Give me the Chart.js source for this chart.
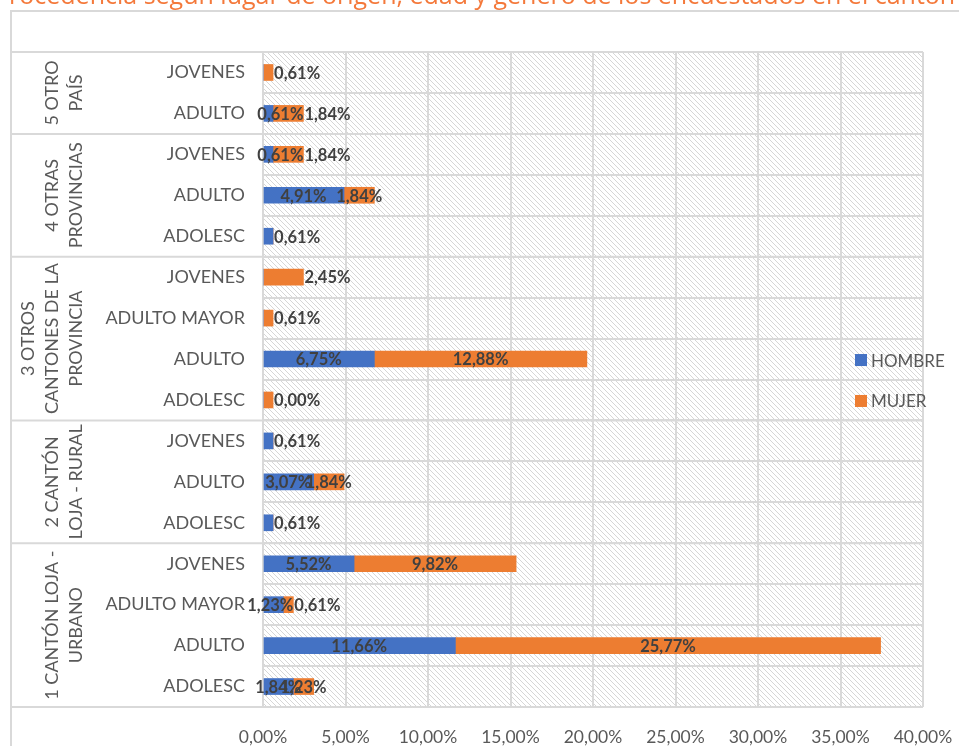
<!DOCTYPE html>
<html>
<head>
<meta charset="utf-8">
<script src="https://cdn.jsdelivr.net/npm/chart.js@4.4.1/dist/chart.umd.min.js"></script>
<style>
  html, body { margin: 0; padding: 0; background: #ffffff; }
  #wrap { position: relative; width: 959px; height: 746px; overflow: hidden; background: #fff; }
  #titulo { position: absolute; left: -6px; top: -23px; white-space: nowrap; font-family: "Open Sans", sans-serif; font-size: 25px; color: #F4793B; }
  canvas { position: absolute; left: 0; top: 0; }
</style>
</head>
<body>
<div id="wrap">
  <canvas id="c" width="959" height="746"></canvas>
  <div id="titulo">Procedencia según lugar de origen, edad y género de los encuestados en el cantón Loja</div>
</div>
<script>
// ---- Data ----
const categorias = [
  "JOVENES", "ADULTO",
  "JOVENES", "ADULTO", "ADOLESC",
  "JOVENES", "ADULTO MAYOR", "ADULTO", "ADOLESC",
  "JOVENES", "ADULTO", "ADOLESC",
  "JOVENES", "ADULTO MAYOR", "ADULTO", "ADOLESC"
];
const grupos = [
  ["5 OTRO", "PAÍS"],
  ["4 OTRAS", "PROVINCIAS"],
  ["3 OTROS", "CANTONES DE LA", "PROVINCIA"],
  ["2 CANTÓN", "LOJA - RURAL"],
  ["1 CANTÓN LOJA -", "URBANO"]
];
const tamanoGrupos = [2, 3, 4, 3, 4];
const hombre = [0, 0.61, 0.61, 4.91, 0.61, 0, 0, 6.75, 0, 0.61, 3.07, 0.61, 5.52, 1.23, 11.66, 1.84];
const mujer  = [0.61, 1.84, 1.84, 1.84, 0, 2.45, 0.61, 12.88, 0.61, 0, 1.84, 0, 9.82, 0.61, 25.77, 1.23];
const mujerEtiquetaTexto = [null, null, null, null, null, null, null, null, "0,00%", null, null, null, null, null, null, null];
const ticksX = [0, 5, 10, 15, 20, 25, 30, 35, 40];
const series = ["HOMBRE", "MUJER"];

const AZUL = "#4472C4", NARANJA = "#ED7D31";
const FONT = "Lato, 'Open Sans', sans-serif";

function fmt(v) { return v.toFixed(2).replace('.', ',') + '%'; }

// hatch pattern
function hatch() {
  const s = 5;
  const c = document.createElement('canvas');
  c.width = s; c.height = s;
  const g = c.getContext('2d');
  g.fillStyle = '#ffffff'; g.fillRect(0, 0, s, s);
  g.strokeStyle = '#d6d6d6'; g.lineWidth = 1;
  g.beginPath();
  for (let k = -1; k <= 1; k++) {
    g.moveTo(k * s, 0); g.lineTo(k * s + s, s);
  }
  g.stroke();
  return g.createPattern(c, 'repeat');
}

const fondo = {
  id: 'fondo',
  beforeDraw(chart) {
    const ctx = chart.ctx, a = chart.chartArea;
    ctx.save();
    ctx.fillStyle = '#ffffff';
    ctx.fillRect(0, 0, chart.width, chart.height);
    ctx.fillStyle = hatch();
    ctx.fillRect(a.left, a.top, a.right - a.left, a.bottom - a.top);
    ctx.restore();
  }
};

const etiquetas = {
  id: 'etiquetas',
  afterDatasetsDraw(chart) {
    const ctx = chart.ctx, xs = chart.scales.x, ys = chart.scales.y;
    ctx.save();
    ctx.font = "bold 16.5px " + FONT;
    ctx.fillStyle = '#404040';
    ctx.textBaseline = 'middle';
    for (let i = 0; i < categorias.length; i++) {
      const yc = ys.getPixelForValue(i) + 1;
      const segs = [];
      if (hombre[i] > 0) segs.push({ a: 0, b: hombre[i], t: fmt(hombre[i]) });
      if (mujer[i] > 0) segs.push({ a: hombre[i], b: hombre[i] + mujer[i], t: mujerEtiquetaTexto[i] || fmt(mujer[i]) });
      const total = hombre[i] + mujer[i];
      if (total < 3) {
        const E = xs.getPixelForValue(total);
        segs.forEach((s, k) => {
          if (k === segs.length - 1) { ctx.textAlign = 'left'; ctx.fillText(s.t, E + 1, yc); }
          else { ctx.textAlign = 'right'; ctx.fillText(s.t, E, yc); }
        });
      } else {
        segs.forEach(s => {
          ctx.textAlign = 'center';
          ctx.fillText(s.t, (xs.getPixelForValue(s.a) + xs.getPixelForValue(s.b)) / 2, yc);
        });
      }
    }
    ctx.restore();
  }
};

const marco = {
  id: 'marco',
  afterDraw(chart) {
    const ctx = chart.ctx, a = chart.chartArea;
    const n = categorias.length, rh = (a.bottom - a.top) / n;
    ctx.save();
    ctx.strokeStyle = '#D9D9D9';
    ctx.lineWidth = 2;
    // outer chart border
    ctx.beginPath();
    ctx.moveTo(11, chart.height); ctx.lineTo(11, 11); ctx.lineTo(chart.width, 11);
    ctx.stroke();
    // group separators
    let idx = 0;
    const bounds = [0];
    tamanoGrupos.forEach(t => { idx += t; bounds.push(idx); });
    ctx.beginPath();
    bounds.forEach(b => {
      const y = a.top + b * rh;
      ctx.moveTo(11, y); ctx.lineTo(a.right, y);
    });
    ctx.stroke();
    // group labels (rotated)
    ctx.fillStyle = '#595959';
    ctx.font = "18px " + FONT;
    ctx.textAlign = 'center';
    ctx.textBaseline = 'middle';
    grupos.forEach((g, gi) => {
      const yc = a.top + (bounds[gi] + bounds[gi + 1]) / 2 * rh;
      g.forEach((line, li) => {
        const x = 76 - (g.length - 1 - li) * 24;
        ctx.save();
        ctx.translate(x, yc);
        ctx.rotate(-Math.PI / 2);
        ctx.fillText(line, 0, 0);
        ctx.restore();
      });
    });
    // legend
    const cols = [AZUL, NARANJA];
    ctx.textAlign = 'left';
    ctx.font = "17px " + FONT;
    series.forEach((s, k) => {
      const yy = a.top + 7.5 * rh + 1 + k * rh;
      ctx.fillStyle = cols[k];
      ctx.fillRect(a.right - 68, yy - 6, 12, 12);
      ctx.fillStyle = '#595959';
      ctx.fillText(s, a.right - 52, yy + 1);
    });
    ctx.restore();
  }
};

new Chart(document.getElementById('c'), {
  type: 'bar',
  data: {
    labels: categorias,
    datasets: [
      { label: series[0], data: hombre, backgroundColor: AZUL, barThickness: 16 },
      { label: series[1], data: mujer, backgroundColor: NARANJA, barThickness: 16 }
    ]
  },
  options: {
    indexAxis: 'y',
    responsive: false,
    animation: false,
    devicePixelRatio: 1,
    layout: { padding: { left: 0, top: 52, right: 36, bottom: 0 } },
    plugins: { legend: { display: false }, tooltip: { enabled: false } },
    scales: {
      x: {
        stacked: true, min: 0, max: 40,
        afterBuildTicks(s) { s.ticks = ticksX.map(v => ({ value: v })); },
        afterFit(s) { s.height = 39; s.paddingLeft = 0; s.paddingRight = 0; },
        grid: { color: '#D9D9D9', lineWidth: 2, drawTicks: false },
        border: { display: false },
        ticks: { padding: 20, color: '#595959', font: { family: FONT, size: 17.5 }, callback: v => fmt(v), maxRotation: 0 }
      },
      y: {
        stacked: true,
        afterFit(s) { s.width = 263; s.paddingTop = 0; s.paddingBottom = 0; },
        grid: { color: '#D9D9D9', lineWidth: 2, drawTicks: false, offset: true },
        border: { display: false },
        ticks: { padding: 18, color: '#595959', font: { family: FONT, size: 18 }, autoSkip: false }
      }
    }
  },
  plugins: [fondo, etiquetas, marco]
});
</script>
</body>
</html>
